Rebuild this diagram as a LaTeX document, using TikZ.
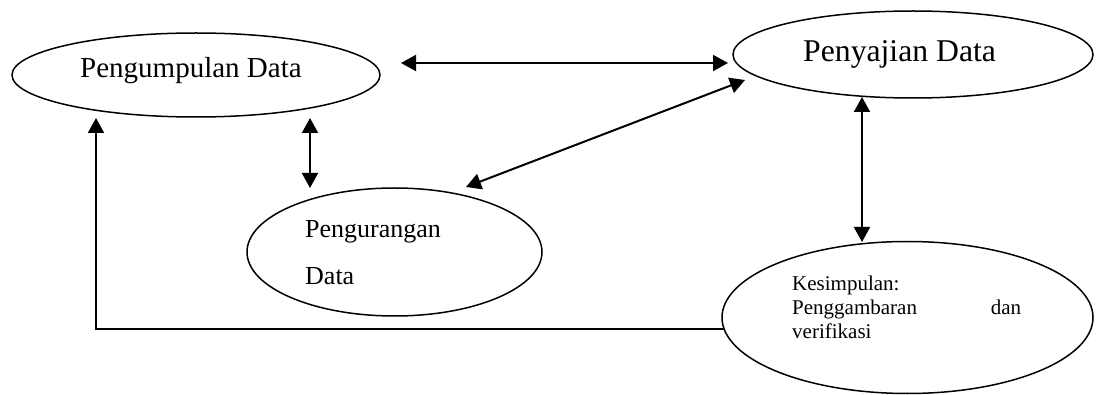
\documentclass[tikz,border=0pt]{standalone}
\usepackage{fontspec}
\setmainfont{Liberation Serif}
\usetikzlibrary{arrows.meta,shapes.geometric}
\begin{document}
\begin{tikzpicture}[x=1pt,y=1pt,
  oval/.style={draw,ellipse,line width=1.5pt,inner sep=0pt},
  lbl/.style={inner sep=0pt,anchor=base west},
  link/.style={line width=2pt,-{Triangle[length=15pt,width=16pt]}},
  dlink/.style={line width=2pt,{Triangle[length=15pt,width=16pt]}-{Triangle[length=15pt,width=16pt]}}]
\useasboundingbox (0,0) rectangle (1096,394);
% ellipses
\node[oval,minimum width=368pt,minimum height=84pt] (pk) at (196,319) {};
\node[oval,minimum width=360pt,minimum height=87pt] (py) at (913,339.5) {};
\node[oval,minimum width=295pt,minimum height=128pt] (pr) at (394.5,142) {};
\node[oval,minimum width=371pt,minimum height=152pt] (ks) at (907.5,76.5) {};
% texts
\node[lbl,font=\fontsize{29}{34}\selectfont] (tpk) at (80,316) {Pengumpulan Data};
\node[lbl,font=\fontsize{31.7}{36}\selectfont] (tpy) at (803,332) {Penyajian Data};
\node[lbl,text width=160pt,align=left,font=\fontsize{26}{47}\selectfont] (tpr) at (305,156) {Pengurangan\\Data};
\node[lbl,text width=229pt,align=left,font=\fontsize{21}{24}\selectfont] (tks) at (792,103) {Kesimpulan:\\Penggambaran\hfill dan\\verifikasi};
% connectors
\draw[dlink] ([shift={(205,12)}]pk.center) -- ([shift={(-185,-8.5)}]py.center);
\draw[dlink] ([shift={(71.5,65)}]pr.center) -- ([shift={(-168,-25.5)}]py.center);
\draw[dlink] ([shift={(114,-43)}]pk.center) -- ([shift={(-84.5,64)}]pr.center);
\draw[dlink] ([shift={(-51,-42.5)}]py.center) -- ([shift={(-45.5,75.5)}]ks.center);
\draw[link] ([shift={(-183.4,-11.5)}]ks.center) -| ([shift={(-100,-43)}]pk.center);
\end{tikzpicture}
\end{document}
